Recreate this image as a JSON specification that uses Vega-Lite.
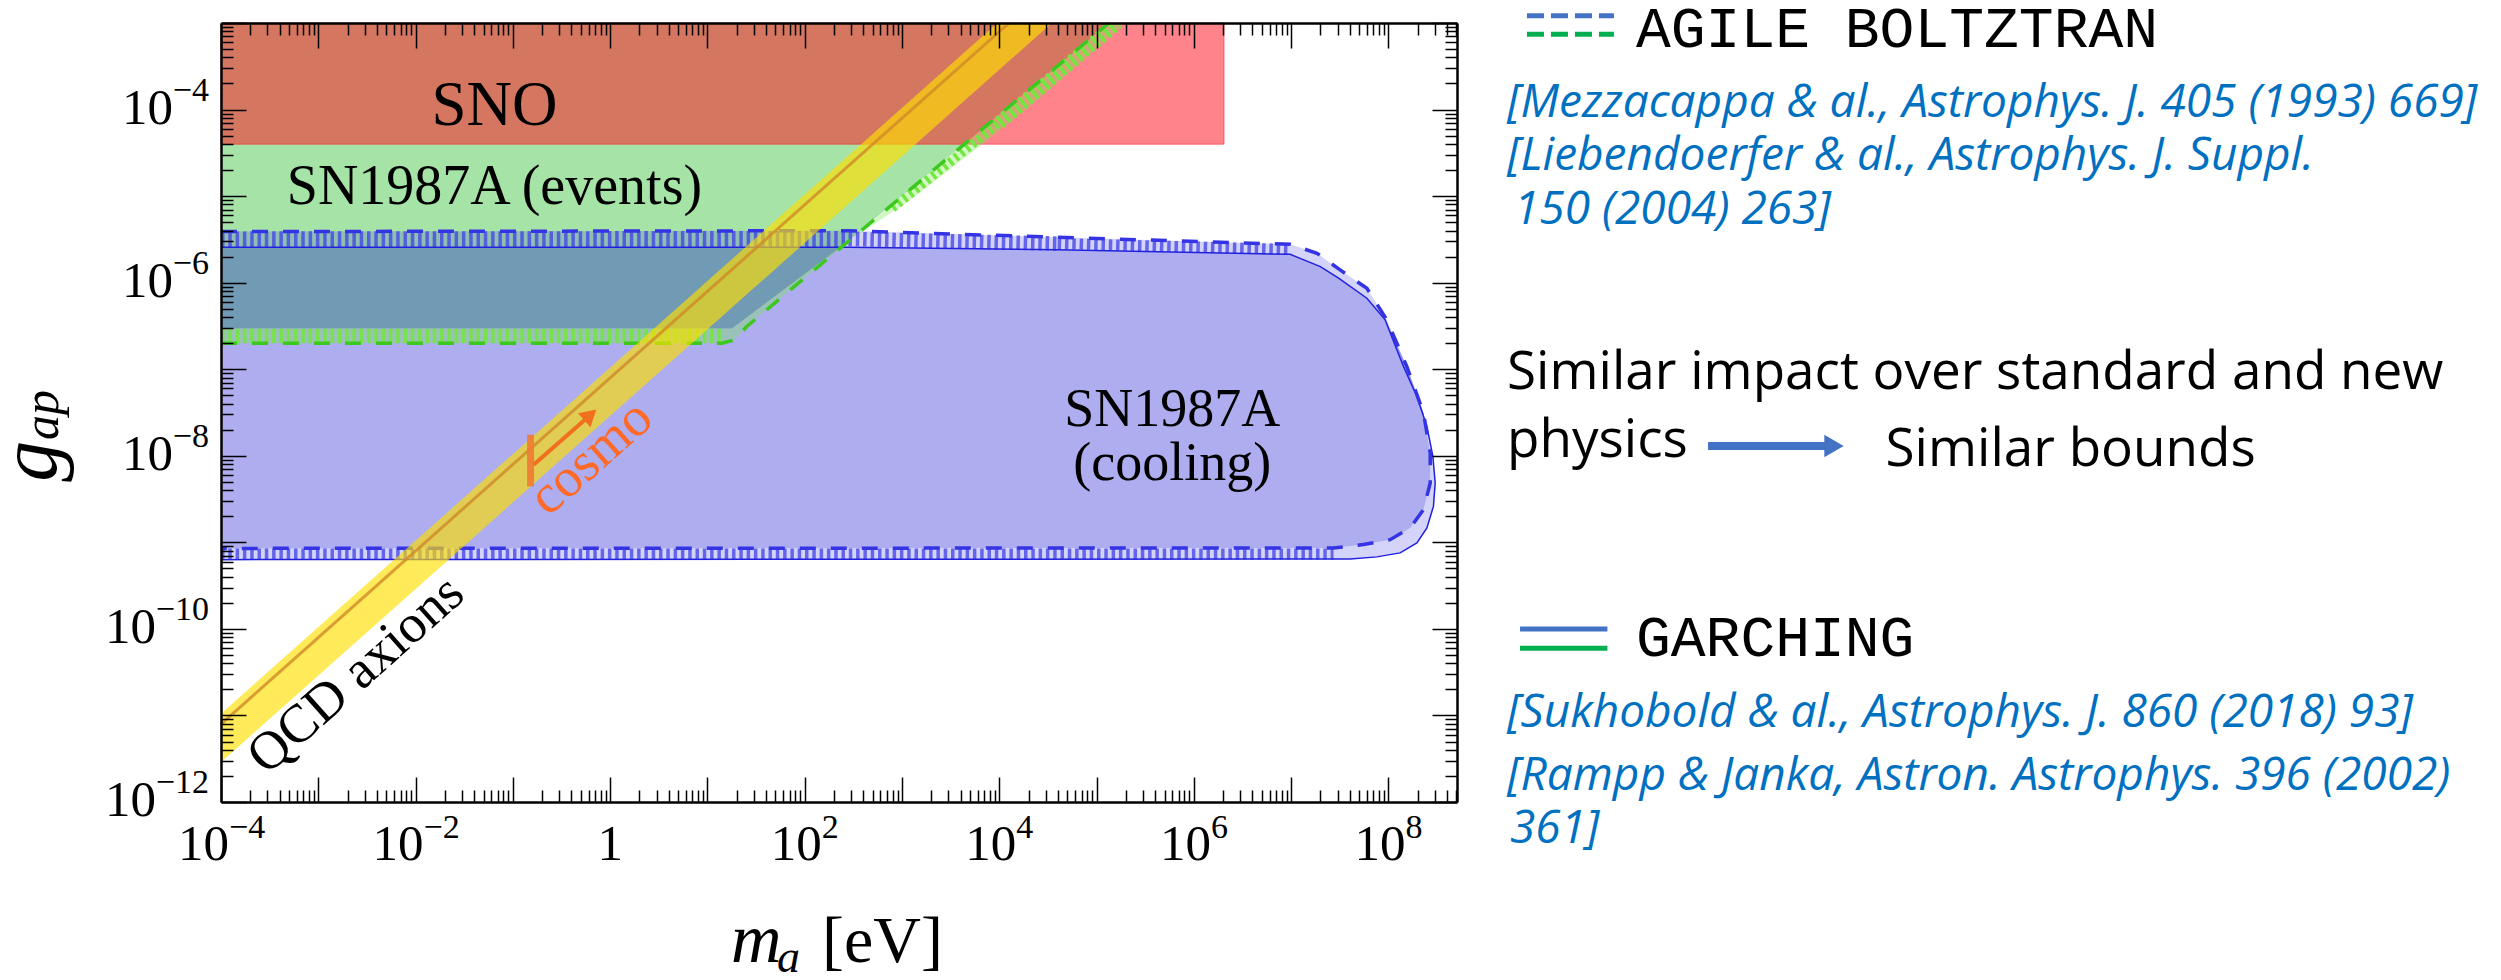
{
  "$schema": "https://vega.github.io/schema/vega-lite/v6.json",
  "width": 1236,
  "height": 779,
  "autosize": {"type": "none"},
  "padding": {"left": 221, "top": 23, "right": 1044, "bottom": 178},
  "background": "white",
  "config": {"view": {"stroke": null}, "axis": {"grid": false}},
  "datasets": {
    "shapes": [
      {"s": "ev_fill", "o": 1, "m": 1e-4, "g": 1e-3},
      {"s": "ev_fill", "o": 2, "m": 1.337e5, "g": 1e-3},
      {"s": "ev_fill", "o": 3, "m": 229.1, "g": 2.512e-6},
      {"s": "ev_fill", "o": 4, "m": 17.86, "g": 2.951e-7},
      {"s": "ev_fill", "o": 5, "m": 1e-4, "g": 2.951e-7},

      {"s": "ev_hatch", "o": 1, "m": 1e-4, "g": 1.995e-7},
      {"s": "ev_hatch", "o": 2, "m": 14.13, "g": 1.995e-7},
      {"s": "ev_hatch", "o": 3, "m": 19.05, "g": 2.188e-7},
      {"s": "ev_hatch", "o": 4, "m": 25.12, "g": 3.09e-7},
      {"s": "ev_hatch", "o": 5, "m": 1.337e5, "g": 1e-3},
      {"s": "ev_hatch", "o": 6, "m": 1.977e5, "g": 1e-3},
      {"s": "ev_hatch", "o": 7, "m": 2.432e4, "g": 1.282e-4},
      {"s": "ev_hatch", "o": 8, "m": 6887, "g": 4.074e-5},
      {"s": "ev_hatch", "o": 9, "m": 1265, "g": 9.333e-6},
      {"s": "ev_hatch", "o": 10, "m": 231.7, "g": 2.6e-6},
      {"s": "ev_hatch", "o": 11, "m": 17.86, "g": 2.951e-7},
      {"s": "ev_hatch", "o": 12, "m": 1e-4, "g": 2.951e-7},

      {"s": "ev_agile", "o": 1, "m": 1e-4, "g": 1.995e-7},
      {"s": "ev_agile", "o": 2, "m": 14.13, "g": 1.995e-7},
      {"s": "ev_agile", "o": 3, "m": 19.05, "g": 2.188e-7},
      {"s": "ev_agile", "o": 4, "m": 25.12, "g": 3.09e-7},
      {"s": "ev_agile", "o": 5, "m": 1.337e5, "g": 1e-3},

      {"s": "cool_fill", "o": 1, "m": 1e-4, "g": 2.57e-6},
      {"s": "cool_fill", "o": 2, "m": 281.8, "g": 2.57e-6},
      {"s": "cool_fill", "o": 3, "m": 3.981e4, "g": 2.399e-6},
      {"s": "cool_fill", "o": 4, "m": 9.772e6, "g": 2.123e-6},
      {"s": "cool_fill", "o": 5, "m": 1.995e7, "g": 1.531e-6},
      {"s": "cool_fill", "o": 6, "m": 3.069e7, "g": 1.125e-6},
      {"s": "cool_fill", "o": 7, "m": 5.998e7, "g": 6.607e-7},
      {"s": "cool_fill", "o": 8, "m": 9.247e7, "g": 3.715e-7},
      {"s": "cool_fill", "o": 9, "m": 1.545e8, "g": 1.074e-7},
      {"s": "cool_fill", "o": 10, "m": 2.291e8, "g": 3.112e-8},
      {"s": "cool_fill", "o": 11, "m": 2.685e8, "g": 1.076e-8},
      {"s": "cool_fill", "o": 12, "m": 2.685e8, "g": 4.842e-9},
      {"s": "cool_fill", "o": 13, "m": 2.291e8, "g": 2.388e-9},
      {"s": "cool_fill", "o": 14, "m": 1.671e8, "g": 1.466e-9},
      {"s": "cool_fill", "o": 15, "m": 1.04e8, "g": 1.074e-9},
      {"s": "cool_fill", "o": 16, "m": 5.534e7, "g": 9.419e-10},
      {"s": "cool_fill", "o": 17, "m": 2.723e7, "g": 8.61e-10},
      {"s": "cool_fill", "o": 18, "m": 1e-4, "g": 8.511e-10},

      {"s": "cool_hatch", "o": 1, "m": 1e-4, "g": 3.89e-6},
      {"s": "cool_hatch", "o": 2, "m": 281.8, "g": 3.981e-6},
      {"s": "cool_hatch", "o": 3, "m": 3.981e4, "g": 3.342e-6},
      {"s": "cool_hatch", "o": 4, "m": 9.772e6, "g": 2.773e-6},
      {"s": "cool_hatch", "o": 5, "m": 1.841e7, "g": 2.188e-6},
      {"s": "cool_hatch", "o": 6, "m": 3.184e7, "g": 1.403e-6},
      {"s": "cool_hatch", "o": 7, "m": 5.998e7, "g": 8.61e-7},
      {"s": "cool_hatch", "o": 8, "m": 9.616e7, "g": 3.715e-7},
      {"s": "cool_hatch", "o": 9, "m": 1.545e8, "g": 1.074e-7},
      {"s": "cool_hatch", "o": 10, "m": 2.291e8, "g": 3.112e-8},
      {"s": "cool_hatch", "o": 11, "m": 2.685e8, "g": 1.076e-8},
      {"s": "cool_hatch", "o": 12, "m": 2.685e8, "g": 4.842e-9},
      {"s": "cool_hatch", "o": 13, "m": 2.291e8, "g": 2.388e-9},
      {"s": "cool_hatch", "o": 14, "m": 1.671e8, "g": 1.466e-9},
      {"s": "cool_hatch", "o": 15, "m": 1.04e8, "g": 1.074e-9},
      {"s": "cool_hatch", "o": 16, "m": 5.534e7, "g": 9.419e-10},
      {"s": "cool_hatch", "o": 17, "m": 2.723e7, "g": 8.61e-10},
      {"s": "cool_hatch", "o": 18, "m": 1e-4, "g": 8.511e-10},
      {"s": "cool_hatch", "o": 19, "m": 1e-4, "g": 6.31e-10},
      {"s": "cool_hatch", "o": 20, "m": 4.036e7, "g": 6.427e-10},
      {"s": "cool_hatch", "o": 21, "m": 7.603e7, "g": 6.792e-10},
      {"s": "cool_hatch", "o": 22, "m": 1.318e8, "g": 7.551e-10},
      {"s": "cool_hatch", "o": 23, "m": 1.959e8, "g": 9.84e-10},
      {"s": "cool_hatch", "o": 24, "m": 2.483e8, "g": 1.466e-9},
      {"s": "cool_hatch", "o": 25, "m": 2.897e8, "g": 2.6e-9},
      {"s": "cool_hatch", "o": 26, "m": 3.02e8, "g": 4.842e-9},
      {"s": "cool_hatch", "o": 27, "m": 2.858e8, "g": 9.817e-9},
      {"s": "cool_hatch", "o": 28, "m": 2.483e8, "g": 2.183e-8},
      {"s": "cool_hatch", "o": 29, "m": 1.959e8, "g": 4.842e-8},
      {"s": "cool_hatch", "o": 30, "m": 1.426e8, "g": 1.074e-7},
      {"s": "cool_hatch", "o": 31, "m": 9.247e7, "g": 3.715e-7},
      {"s": "cool_hatch", "o": 32, "m": 5.998e7, "g": 6.607e-7},
      {"s": "cool_hatch", "o": 33, "m": 3.069e7, "g": 1.125e-6},
      {"s": "cool_hatch", "o": 34, "m": 1.995e7, "g": 1.531e-6},
      {"s": "cool_hatch", "o": 35, "m": 9.772e6, "g": 2.123e-6},
      {"s": "cool_hatch", "o": 36, "m": 3.981e4, "g": 2.399e-6},
      {"s": "cool_hatch", "o": 37, "m": 281.8, "g": 2.57e-6},
      {"s": "cool_hatch", "o": 38, "m": 1e-4, "g": 2.57e-6},

      {"s": "cool_garch", "o": 1, "m": 1e-4, "g": 2.57e-6},
      {"s": "cool_garch", "o": 2, "m": 281.8, "g": 2.57e-6},
      {"s": "cool_garch", "o": 3, "m": 3.981e4, "g": 2.399e-6},
      {"s": "cool_garch", "o": 4, "m": 9.772e6, "g": 2.123e-6},
      {"s": "cool_garch", "o": 5, "m": 1.995e7, "g": 1.531e-6},
      {"s": "cool_garch", "o": 6, "m": 3.069e7, "g": 1.125e-6},
      {"s": "cool_garch", "o": 7, "m": 5.998e7, "g": 6.607e-7},
      {"s": "cool_garch", "o": 8, "m": 9.247e7, "g": 3.715e-7},
      {"s": "cool_garch", "o": 9, "m": 1.426e8, "g": 1.074e-7},
      {"s": "cool_garch", "o": 10, "m": 1.959e8, "g": 4.842e-8},
      {"s": "cool_garch", "o": 11, "m": 2.483e8, "g": 2.183e-8},
      {"s": "cool_garch", "o": 12, "m": 2.858e8, "g": 9.817e-9},
      {"s": "cool_garch", "o": 13, "m": 3.02e8, "g": 4.842e-9},
      {"s": "cool_garch", "o": 14, "m": 2.897e8, "g": 2.6e-9},
      {"s": "cool_garch", "o": 15, "m": 2.483e8, "g": 1.466e-9},
      {"s": "cool_garch", "o": 16, "m": 1.959e8, "g": 9.84e-10},
      {"s": "cool_garch", "o": 17, "m": 1.318e8, "g": 7.551e-10},
      {"s": "cool_garch", "o": 18, "m": 7.603e7, "g": 6.792e-10},
      {"s": "cool_garch", "o": 19, "m": 4.036e7, "g": 6.427e-10},
      {"s": "cool_garch", "o": 20, "m": 1e-4, "g": 6.31e-10},

      {"s": "cool_agile", "o": 1, "m": 1e-4, "g": 3.89e-6},
      {"s": "cool_agile", "o": 2, "m": 281.8, "g": 3.981e-6},
      {"s": "cool_agile", "o": 3, "m": 3.981e4, "g": 3.342e-6},
      {"s": "cool_agile", "o": 4, "m": 9.772e6, "g": 2.773e-6},
      {"s": "cool_agile", "o": 5, "m": 1.841e7, "g": 2.188e-6},
      {"s": "cool_agile", "o": 6, "m": 3.184e7, "g": 1.403e-6},
      {"s": "cool_agile", "o": 7, "m": 5.998e7, "g": 8.61e-7},
      {"s": "cool_agile", "o": 8, "m": 9.616e7, "g": 3.715e-7},
      {"s": "cool_agile", "o": 9, "m": 1.545e8, "g": 1.074e-7},
      {"s": "cool_agile", "o": 10, "m": 2.291e8, "g": 3.112e-8},
      {"s": "cool_agile", "o": 11, "m": 2.685e8, "g": 1.076e-8},
      {"s": "cool_agile", "o": 12, "m": 2.685e8, "g": 4.842e-9},
      {"s": "cool_agile", "o": 13, "m": 2.291e8, "g": 2.388e-9},
      {"s": "cool_agile", "o": 14, "m": 1.671e8, "g": 1.466e-9},
      {"s": "cool_agile", "o": 15, "m": 1.04e8, "g": 1.074e-9},
      {"s": "cool_agile", "o": 16, "m": 5.534e7, "g": 9.419e-10},
      {"s": "cool_agile", "o": 17, "m": 2.723e7, "g": 8.61e-10},
      {"s": "cool_agile", "o": 18, "m": 1e-4, "g": 8.511e-10},

      {"s": "st_b1", "o": 1, "m": 1e-4, "g": 3.162e-6},
      {"s": "st_b1", "o": 2, "m": 281.8, "g": 3.199e-6},
      {"s": "st_b2", "o": 1, "m": 281.8, "g": 3.199e-6},
      {"s": "st_b2", "o": 2, "m": 3.981e4, "g": 2.831e-6},
      {"s": "st_b3", "o": 1, "m": 3.981e4, "g": 2.831e-6},
      {"s": "st_b3", "o": 2, "m": 9.772e6, "g": 2.427e-6},
      {"s": "st_b4", "o": 1, "m": 1e-4, "g": 7.328e-10},
      {"s": "st_b4", "o": 2, "m": 2.723e7, "g": 7.328e-10},
      {"s": "st_g1", "o": 1, "m": 1e-4, "g": 2.427e-7},
      {"s": "st_g1", "o": 2, "m": 14.13, "g": 2.427e-7},
      {"s": "st_g2", "o": 1, "m": 794.3, "g": 7.244e-6},
      {"s": "st_g2", "o": 2, "m": 1e4, "g": 7.047e-5},
      {"s": "st_g3", "o": 1, "m": 1e4, "g": 7.047e-5},
      {"s": "st_g3", "o": 2, "m": 1.626e5, "g": 1e-3},

      {"s": "qcd", "o": 1, "m": 1e-4, "g": 1.047e-11},
      {"s": "qcd", "o": 2, "m": 9550, "g": 1e-3},
      {"s": "qcd", "o": 3, "m": 3.467e4, "g": 1e-3},
      {"s": "qcd", "o": 4, "m": 1e-4, "g": 2.884e-12},

      {"s": "qcd_c", "o": 1, "m": 1e-4, "g": 7.943e-12},
      {"s": "qcd_c", "o": 2, "m": 1.259e4, "g": 1e-3}
    ]
  },
  "layer": [
    {
      "resolve": {"axis": {"x": "independent", "y": "independent"}},
      "layer": [
        {
          "data": {"name": "shapes"},
          "transform": [{"filter": "datum.s == 'ev_fill'"}],
          "mark": {"type": "line", "interpolate": "linear-closed", "fill": "#A6E3A6", "fillOpacity": 1, "strokeOpacity": 0},
          "encoding": {
            "x": {"field": "m", "type": "quantitative", "scale": {"type": "log", "domain": [1e-4, 5.06e8], "nice": false},
              "axis": {"orient": "bottom", "values": [1e-4, 1e-3, 1e-2, 1e-1, 1, 10, 100, 1000, 1e4, 1e5, 1e6, 1e7, 1e8],
                "ticks": false, "domain": true, "domainColor": "black", "domainWidth": 2.5, "labels": false,
                "title": null, "grid": false, "zindex": 1}},
            "y": {"field": "g", "type": "quantitative", "scale": {"type": "log", "domain": [1e-12, 1e-3], "nice": false},
              "axis": {"orient": "left", "values": [1e-12, 1e-11, 1e-10, 1e-9, 1e-8, 1e-7, 1e-6, 1e-5, 1e-4, 1e-3],
                "ticks": false, "domain": true, "domainColor": "black", "domainWidth": 2.5, "labels": false,
                "title": null, "grid": false, "zindex": 1}},
            "order": {"field": "o", "type": "quantitative"}
          }
        },
        {
          "data": {"name": "shapes"},
          "transform": [{"filter": "datum.s == 'cool_fill'"}],
          "mark": {"type": "line", "interpolate": "linear-closed", "fill": "#0707D0", "fillOpacity": 0.33, "strokeOpacity": 0},
          "encoding": {
            "x": {"field": "m", "type": "quantitative", "scale": {"type": "log", "domain": [1e-4, 5.06e8], "nice": false}, "axis": null},
            "y": {"field": "g", "type": "quantitative", "scale": {"type": "log", "domain": [1e-12, 1e-3], "nice": false}, "axis": null},
            "order": {"field": "o", "type": "quantitative"}
          }
        },
        {
          "data": {"values": [{"m": 1e-4, "m2": 2.04e6, "g": 3.98e-5, "g2": 1e-3}]},
          "mark": {"type": "rect", "fill": "#FF1423", "fillOpacity": 0.53, "stroke": "#FF1423", "strokeOpacity": 0.5, "strokeWidth": 1},
          "encoding": {
            "x": {"field": "m", "type": "quantitative", "scale": {"type": "log", "domain": [1e-4, 5.06e8], "nice": false}, "axis": null},
            "x2": {"field": "m2"},
            "y": {"field": "g", "type": "quantitative", "scale": {"type": "log", "domain": [1e-12, 1e-3], "nice": false}, "axis": null},
            "y2": {"field": "g2"}
          }
        },
        {
          "data": {"name": "shapes"},
          "transform": [{"filter": "datum.s == 'cool_hatch'"}],
          "mark": {"type": "line", "interpolate": "linear-closed", "fill": "#3C3CE6", "fillOpacity": 0.22, "strokeOpacity": 0},
          "encoding": {
            "x": {"field": "m", "type": "quantitative", "scale": {"type": "log", "domain": [1e-4, 5.06e8], "nice": false}, "axis": null},
            "y": {"field": "g", "type": "quantitative", "scale": {"type": "log", "domain": [1e-12, 1e-3], "nice": false}, "axis": null},
            "order": {"field": "o", "type": "quantitative"}
          }
        },
        {
          "data": {"name": "shapes"},
          "transform": [{"filter": "datum.s == 'ev_hatch'"}],
          "mark": {"type": "line", "interpolate": "linear-closed", "fill": "#7CEB50", "fillOpacity": 0.35, "strokeOpacity": 0},
          "encoding": {
            "x": {"field": "m", "type": "quantitative", "scale": {"type": "log", "domain": [1e-4, 5.06e8], "nice": false}, "axis": null},
            "y": {"field": "g", "type": "quantitative", "scale": {"type": "log", "domain": [1e-12, 1e-3], "nice": false}, "axis": null},
            "order": {"field": "o", "type": "quantitative"}
          }
        },
        {
          "data": {"name": "shapes"},
          "transform": [{"filter": "datum.s == 'st_b1'"}],
          "mark": {"type": "line", "stroke": "#4040E6", "strokeOpacity": 0.75, "strokeWidth": 16, "strokeDash": [3.5, 3.8], "strokeCap": "butt"},
          "encoding": {
            "x": {"field": "m", "type": "quantitative", "scale": {"type": "log", "domain": [1e-4, 5.06e8], "nice": false}, "axis": null},
            "y": {"field": "g", "type": "quantitative", "scale": {"type": "log", "domain": [1e-12, 1e-3], "nice": false}, "axis": null},
            "order": {"field": "o", "type": "quantitative"}
          }
        },
        {
          "data": {"name": "shapes"},
          "transform": [{"filter": "datum.s == 'st_b2'"}],
          "mark": {"type": "line", "stroke": "#4040E6", "strokeOpacity": 0.75, "strokeWidth": 14.5, "strokeDash": [3.5, 3.8], "strokeCap": "butt"},
          "encoding": {
            "x": {"field": "m", "type": "quantitative", "scale": {"type": "log", "domain": [1e-4, 5.06e8], "nice": false}, "axis": null},
            "y": {"field": "g", "type": "quantitative", "scale": {"type": "log", "domain": [1e-12, 1e-3], "nice": false}, "axis": null},
            "order": {"field": "o", "type": "quantitative"}
          }
        },
        {
          "data": {"name": "shapes"},
          "transform": [{"filter": "datum.s == 'st_b3' || datum.s == 'st_b4'"}],
          "mark": {"type": "line", "stroke": "#4040E6", "strokeOpacity": 0.75, "strokeWidth": 11, "strokeDash": [3.5, 3.8], "strokeCap": "butt"},
          "encoding": {
            "x": {"field": "m", "type": "quantitative", "scale": {"type": "log", "domain": [1e-4, 5.06e8], "nice": false}, "axis": null},
            "y": {"field": "g", "type": "quantitative", "scale": {"type": "log", "domain": [1e-12, 1e-3], "nice": false}, "axis": null},
            "detail": {"field": "s"},
            "order": {"field": "o", "type": "quantitative"}
          }
        },
        {
          "data": {"name": "shapes"},
          "transform": [{"filter": "datum.s == 'st_g1'"}],
          "mark": {"type": "line", "stroke": "#74E640", "strokeOpacity": 0.9, "strokeWidth": 14.5, "strokeDash": [3.5, 3.8], "strokeCap": "butt"},
          "encoding": {
            "x": {"field": "m", "type": "quantitative", "scale": {"type": "log", "domain": [1e-4, 5.06e8], "nice": false}, "axis": null},
            "y": {"field": "g", "type": "quantitative", "scale": {"type": "log", "domain": [1e-12, 1e-3], "nice": false}, "axis": null},
            "order": {"field": "o", "type": "quantitative"}
          }
        },
        {
          "data": {"name": "shapes"},
          "transform": [{"filter": "datum.s == 'st_g2'"}],
          "mark": {"type": "line", "stroke": "#74E640", "strokeOpacity": 1, "strokeWidth": 9, "strokeDash": [3.5, 3.8], "strokeCap": "butt", "clip": true},
          "encoding": {
            "x": {"field": "m", "type": "quantitative", "scale": {"type": "log", "domain": [1e-4, 5.06e8], "nice": false}, "axis": null},
            "y": {"field": "g", "type": "quantitative", "scale": {"type": "log", "domain": [1e-12, 1e-3], "nice": false}, "axis": null},
            "order": {"field": "o", "type": "quantitative"}
          }
        },
        {
          "data": {"name": "shapes"},
          "transform": [{"filter": "datum.s == 'st_g3'"}],
          "mark": {"type": "line", "stroke": "#74E640", "strokeOpacity": 1, "strokeWidth": 14, "strokeDash": [3.5, 3.8], "strokeCap": "butt", "clip": true},
          "encoding": {
            "x": {"field": "m", "type": "quantitative", "scale": {"type": "log", "domain": [1e-4, 5.06e8], "nice": false}, "axis": null},
            "y": {"field": "g", "type": "quantitative", "scale": {"type": "log", "domain": [1e-12, 1e-3], "nice": false}, "axis": null},
            "order": {"field": "o", "type": "quantitative"}
          }
        },
        {
          "data": {"name": "shapes"},
          "transform": [{"filter": "datum.s == 'cool_garch'"}],
          "mark": {"type": "line", "interpolate": "linear", "stroke": "#2020DD", "strokeWidth": 1.5},
          "encoding": {
            "x": {"field": "m", "type": "quantitative", "scale": {"type": "log", "domain": [1e-4, 5.06e8], "nice": false}, "axis": null},
            "y": {"field": "g", "type": "quantitative", "scale": {"type": "log", "domain": [1e-12, 1e-3], "nice": false}, "axis": null},
            "order": {"field": "o", "type": "quantitative"}
          }
        },
        {
          "data": {"name": "shapes"},
          "transform": [{"filter": "datum.s == 'cool_agile'"}],
          "mark": {"type": "line", "interpolate": "linear", "stroke": "#3434E4", "strokeWidth": 3.5, "strokeDash": [16, 15]},
          "encoding": {
            "x": {"field": "m", "type": "quantitative", "scale": {"type": "log", "domain": [1e-4, 5.06e8], "nice": false}, "axis": null},
            "y": {"field": "g", "type": "quantitative", "scale": {"type": "log", "domain": [1e-12, 1e-3], "nice": false}, "axis": null},
            "order": {"field": "o", "type": "quantitative"}
          }
        },
        {
          "data": {"name": "shapes"},
          "transform": [{"filter": "datum.s == 'ev_agile'"}],
          "mark": {"type": "line", "interpolate": "linear", "stroke": "#3CC81E", "strokeWidth": 3.5, "strokeDash": [16, 15]},
          "encoding": {
            "x": {"field": "m", "type": "quantitative", "scale": {"type": "log", "domain": [1e-4, 5.06e8], "nice": false}, "axis": null},
            "y": {"field": "g", "type": "quantitative", "scale": {"type": "log", "domain": [1e-12, 1e-3], "nice": false}, "axis": null},
            "order": {"field": "o", "type": "quantitative"}
          }
        },
        {
          "data": {"name": "shapes"},
          "transform": [{"filter": "datum.s == 'qcd'"}],
          "mark": {"type": "line", "interpolate": "linear-closed", "fill": "#FFDF00", "fillOpacity": 0.65, "strokeOpacity": 0},
          "encoding": {
            "x": {"field": "m", "type": "quantitative", "scale": {"type": "log", "domain": [1e-4, 5.06e8], "nice": false}, "axis": null},
            "y": {"field": "g", "type": "quantitative", "scale": {"type": "log", "domain": [1e-12, 1e-3], "nice": false}, "axis": null},
            "order": {"field": "o", "type": "quantitative"}
          }
        },
        {
          "data": {"name": "shapes"},
          "transform": [{"filter": "datum.s == 'qcd_c'"}],
          "mark": {"type": "line", "interpolate": "linear", "stroke": "#D08A28", "strokeOpacity": 0.8, "strokeWidth": 3},
          "encoding": {
            "x": {"field": "m", "type": "quantitative", "scale": {"type": "log", "domain": [1e-4, 5.06e8], "nice": false}, "axis": null},
            "y": {"field": "g", "type": "quantitative", "scale": {"type": "log", "domain": [1e-12, 1e-3], "nice": false}, "axis": null},
            "order": {"field": "o", "type": "quantitative"}
          }
        },
        {
          "data": {"values": [{"t": "SNO", "m": 0.0646, "g": 6.6e-5}]},
          "mark": {"type": "text", "font": "Liberation Serif", "fontSize": 63, "color": "black", "align": "center", "baseline": "alphabetic"},
          "encoding": {
            "x": {"field": "m", "type": "quantitative", "scale": {"type": "log", "domain": [1e-4, 5.06e8], "nice": false}, "axis": null},
            "y": {"field": "g", "type": "quantitative", "scale": {"type": "log", "domain": [1e-12, 1e-3], "nice": false}, "axis": null},
            "text": {"field": "t"}
          }
        },
        {
          "data": {"values": [{"t": "SN1987A (events)", "m": 0.0646, "g": 8.13e-6}]},
          "mark": {"type": "text", "font": "Liberation Serif", "fontSize": 56, "color": "black", "align": "center", "baseline": "alphabetic"},
          "encoding": {
            "x": {"field": "m", "type": "quantitative", "scale": {"type": "log", "domain": [1e-4, 5.06e8], "nice": false}, "axis": null},
            "y": {"field": "g", "type": "quantitative", "scale": {"type": "log", "domain": [1e-12, 1e-3], "nice": false}, "axis": null},
            "text": {"field": "t"}
          }
        },
        {
          "data": {"values": [{"t": "SN1987A", "m": 5.98e5, "g": 2.188e-8}, {"t": "(cooling)", "m": 5.98e5, "g": 5.28e-9}]},
          "mark": {"type": "text", "font": "Liberation Serif", "fontSize": 54, "color": "black", "align": "center", "baseline": "alphabetic"},
          "encoding": {
            "x": {"field": "m", "type": "quantitative", "scale": {"type": "log", "domain": [1e-4, 5.06e8], "nice": false}, "axis": null},
            "y": {"field": "g", "type": "quantitative", "scale": {"type": "log", "domain": [1e-12, 1e-3], "nice": false}, "axis": null},
            "text": {"field": "t"}
          }
        },
        {
          "data": {"values": [{"t": "QCD axions", "m": 0.00245, "g": 2.95e-11}]},
          "mark": {"type": "text", "font": "Liberation Serif", "fontSize": 54, "color": "black", "align": "center", "baseline": "middle", "angle": 318.3},
          "encoding": {
            "x": {"field": "m", "type": "quantitative", "scale": {"type": "log", "domain": [1e-4, 5.06e8], "nice": false}, "axis": null},
            "y": {"field": "g", "type": "quantitative", "scale": {"type": "log", "domain": [1e-12, 1e-3], "nice": false}, "axis": null},
            "text": {"field": "t"}
          }
        },
        {
          "data": {"values": [{"t": "cosmo", "m": 0.63, "g": 9.6e-9}]},
          "mark": {"type": "text", "font": "Liberation Serif", "fontSize": 55, "color": "#FF6A28", "align": "center", "baseline": "middle", "angle": 318.5},
          "encoding": {
            "x": {"field": "m", "type": "quantitative", "scale": {"type": "log", "domain": [1e-4, 5.06e8], "nice": false}, "axis": null},
            "y": {"field": "g", "type": "quantitative", "scale": {"type": "log", "domain": [1e-12, 1e-3], "nice": false}, "axis": null},
            "text": {"field": "t"}
          }
        },
        {
          "data": {"values": [{"m": 0.152, "g": 1.75e-8, "g2": 4.43e-9}]},
          "mark": {"type": "rule", "color": "#F07A32", "opacity": 0.9, "strokeWidth": 7},
          "encoding": {
            "x": {"field": "m", "type": "quantitative", "scale": {"type": "log", "domain": [1e-4, 5.06e8], "nice": false}, "axis": null},
            "y": {"field": "g", "type": "quantitative", "scale": {"type": "log", "domain": [1e-12, 1e-3], "nice": false}, "axis": null},
            "y2": {"field": "g2"}
          }
        },
        {
          "data": {"values": [{"m": 0.1633, "g": 7.89e-9, "m2": 0.565, "g2": 2.685e-8}]},
          "mark": {"type": "rule", "color": "#F07020", "strokeWidth": 4},
          "encoding": {
            "x": {"field": "m", "type": "quantitative", "scale": {"type": "log", "domain": [1e-4, 5.06e8], "nice": false}, "axis": null},
            "y": {"field": "g", "type": "quantitative", "scale": {"type": "log", "domain": [1e-12, 1e-3], "nice": false}, "axis": null},
            "x2": {"field": "m2"},
            "y2": {"field": "g2"}
          }
        },
        {
          "data": {"values": [{"m": 0.625, "g": 2.972e-8}]},
          "mark": {"type": "point", "shape": "triangle-up", "filled": true, "color": "#F07020", "opacity": 1, "size": 350, "angle": 48.7},
          "encoding": {
            "x": {"field": "m", "type": "quantitative", "scale": {"type": "log", "domain": [1e-4, 5.06e8], "nice": false}, "axis": null},
            "y": {"field": "g", "type": "quantitative", "scale": {"type": "log", "domain": [1e-12, 1e-3], "nice": false}, "axis": null}
          }
        },
        {
          "data": {"values": [{"t": "10", "m": 1e-4, "g": 1e-12}, {"t": "10", "m": 1e-2, "g": 1e-12}]},
          "mark": {"type": "text", "font": "Liberation Serif", "fontSize": 51, "color": "black", "align": "left", "baseline": "alphabetic", "dx": -43, "dy": 58},
          "encoding": {
            "x": {"field": "m", "type": "quantitative", "scale": {"type": "log", "domain": [1e-4, 5.06e8], "nice": false}, "axis": null},
            "y": {"field": "g", "type": "quantitative", "scale": {"type": "log", "domain": [1e-12, 1e-3], "nice": false}, "axis": null},
            "text": {"field": "t"}
          }
        },
        {
          "data": {"values": [{"t": "−4", "m": 1e-4, "g": 1e-12}, {"t": "−2", "m": 1e-2, "g": 1e-12}]},
          "mark": {"type": "text", "font": "Liberation Serif", "fontSize": 34, "color": "black", "align": "left", "baseline": "alphabetic", "dx": 8, "dy": 36},
          "encoding": {
            "x": {"field": "m", "type": "quantitative", "scale": {"type": "log", "domain": [1e-4, 5.06e8], "nice": false}, "axis": null},
            "y": {"field": "g", "type": "quantitative", "scale": {"type": "log", "domain": [1e-12, 1e-3], "nice": false}, "axis": null},
            "text": {"field": "t"}
          }
        },
        {
          "data": {"values": [{"t": "10", "m": 100, "g": 1e-12}, {"t": "10", "m": 1e4, "g": 1e-12}, {"t": "10", "m": 1e6, "g": 1e-12}, {"t": "10", "m": 1e8, "g": 1e-12}]},
          "mark": {"type": "text", "font": "Liberation Serif", "fontSize": 51, "color": "black", "align": "left", "baseline": "alphabetic", "dx": -34, "dy": 58},
          "encoding": {
            "x": {"field": "m", "type": "quantitative", "scale": {"type": "log", "domain": [1e-4, 5.06e8], "nice": false}, "axis": null},
            "y": {"field": "g", "type": "quantitative", "scale": {"type": "log", "domain": [1e-12, 1e-3], "nice": false}, "axis": null},
            "text": {"field": "t"}
          }
        },
        {
          "data": {"values": [{"t": "2", "m": 100, "g": 1e-12}, {"t": "4", "m": 1e4, "g": 1e-12}, {"t": "6", "m": 1e6, "g": 1e-12}, {"t": "8", "m": 1e8, "g": 1e-12}]},
          "mark": {"type": "text", "font": "Liberation Serif", "fontSize": 34, "color": "black", "align": "left", "baseline": "alphabetic", "dx": 17, "dy": 36},
          "encoding": {
            "x": {"field": "m", "type": "quantitative", "scale": {"type": "log", "domain": [1e-4, 5.06e8], "nice": false}, "axis": null},
            "y": {"field": "g", "type": "quantitative", "scale": {"type": "log", "domain": [1e-12, 1e-3], "nice": false}, "axis": null},
            "text": {"field": "t"}
          }
        },
        {
          "data": {"values": [{"t": "1", "m": 1, "g": 1e-12}]},
          "mark": {"type": "text", "font": "Liberation Serif", "fontSize": 51, "color": "black", "align": "center", "baseline": "alphabetic", "dy": 58},
          "encoding": {
            "x": {"field": "m", "type": "quantitative", "scale": {"type": "log", "domain": [1e-4, 5.06e8], "nice": false}, "axis": null},
            "y": {"field": "g", "type": "quantitative", "scale": {"type": "log", "domain": [1e-12, 1e-3], "nice": false}, "axis": null},
            "text": {"field": "t"}
          }
        },
        {
          "data": {"values": [{"t": "10", "m": 1e-4, "g": 1e-12}, {"t": "10", "m": 1e-4, "g": 1e-10}]},
          "mark": {"type": "text", "font": "Liberation Serif", "fontSize": 51, "color": "black", "align": "right", "baseline": "alphabetic", "dx": -65, "dy": 14},
          "encoding": {
            "x": {"field": "m", "type": "quantitative", "scale": {"type": "log", "domain": [1e-4, 5.06e8], "nice": false}, "axis": null},
            "y": {"field": "g", "type": "quantitative", "scale": {"type": "log", "domain": [1e-12, 1e-3], "nice": false}, "axis": null},
            "text": {"field": "t"}
          }
        },
        {
          "data": {"values": [{"t": "−12", "m": 1e-4, "g": 1e-12}, {"t": "−10", "m": 1e-4, "g": 1e-10}]},
          "mark": {"type": "text", "font": "Liberation Serif", "fontSize": 34, "color": "black", "align": "right", "baseline": "alphabetic", "dx": -12, "dy": -9},
          "encoding": {
            "x": {"field": "m", "type": "quantitative", "scale": {"type": "log", "domain": [1e-4, 5.06e8], "nice": false}, "axis": null},
            "y": {"field": "g", "type": "quantitative", "scale": {"type": "log", "domain": [1e-12, 1e-3], "nice": false}, "axis": null},
            "text": {"field": "t"}
          }
        },
        {
          "data": {"values": [{"t": "10", "m": 1e-4, "g": 1e-8}, {"t": "10", "m": 1e-4, "g": 1e-6}, {"t": "10", "m": 1e-4, "g": 1e-4}]},
          "mark": {"type": "text", "font": "Liberation Serif", "fontSize": 51, "color": "black", "align": "right", "baseline": "alphabetic", "dx": -48, "dy": 14},
          "encoding": {
            "x": {"field": "m", "type": "quantitative", "scale": {"type": "log", "domain": [1e-4, 5.06e8], "nice": false}, "axis": null},
            "y": {"field": "g", "type": "quantitative", "scale": {"type": "log", "domain": [1e-12, 1e-3], "nice": false}, "axis": null},
            "text": {"field": "t"}
          }
        },
        {
          "data": {"values": [{"t": "−8", "m": 1e-4, "g": 1e-8}, {"t": "−6", "m": 1e-4, "g": 1e-6}, {"t": "−4", "m": 1e-4, "g": 1e-4}]},
          "mark": {"type": "text", "font": "Liberation Serif", "fontSize": 34, "color": "black", "align": "right", "baseline": "alphabetic", "dx": -12, "dy": -9},
          "encoding": {
            "x": {"field": "m", "type": "quantitative", "scale": {"type": "log", "domain": [1e-4, 5.06e8], "nice": false}, "axis": null},
            "y": {"field": "g", "type": "quantitative", "scale": {"type": "log", "domain": [1e-12, 1e-3], "nice": false}, "axis": null},
            "text": {"field": "t"}
          }
        },
        {
          "data": {"values": [{"m": 1, "g": 1e-6}]},
          "mark": {"type": "point", "opacity": 0},
          "encoding": {
            "x": {"field": "m", "type": "quantitative", "scale": {"type": "log", "domain": [1e-4, 5.06e8], "nice": false},
              "axis": {"orient": "bottom", "values": [1e-4, 1e-3, 1e-2, 1e-1, 1, 10, 100, 1000, 1e4, 1e5, 1e6, 1e7, 1e8],
                "ticks": true, "tickSize": -25, "tickWidth": 1.5, "tickColor": "black", "labels": false, "domain": false, "title": null, "grid": false, "zindex": 1}},
            "y": {"field": "g", "type": "quantitative", "scale": {"type": "log", "domain": [1e-12, 1e-3], "nice": false},
              "axis": {"orient": "left", "values": [1e-12, 1e-11, 1e-10, 1e-9, 1e-8, 1e-7, 1e-6, 1e-5, 1e-4, 1e-3],
                "ticks": true, "tickSize": -25, "tickWidth": 1.5, "tickColor": "black", "labels": false, "domain": false, "title": null, "grid": false, "zindex": 1}}
          }
        },
        {
          "data": {"values": [{"m": 1, "g": 1e-6}]},
          "mark": {"type": "point", "opacity": 0},
          "encoding": {
            "x": {"field": "m", "type": "quantitative", "scale": {"type": "log", "domain": [1e-4, 5.06e8], "nice": false},
              "axis": {"orient": "bottom", "values": [2e-4, 3e-4, 4e-4, 5e-4, 6e-4, 7e-4, 8e-4, 9e-4, 2e-3, 3e-3, 4e-3, 5e-3, 6e-3, 7e-3, 8e-3, 9e-3, 0.02, 0.03, 0.04, 0.05, 0.06, 0.07, 0.08, 0.09, 0.2, 0.3, 0.4, 0.5, 0.6, 0.7, 0.8, 0.9, 2, 3, 4, 5, 6, 7, 8, 9, 20, 30, 40, 50, 60, 70, 80, 90, 200, 300, 400, 500, 600, 700, 800, 900, 2000, 3000, 4000, 5000, 6000, 7000, 8000, 9000, 2e4, 3e4, 4e4, 5e4, 6e4, 7e4, 8e4, 9e4, 2e5, 3e5, 4e5, 5e5, 6e5, 7e5, 8e5, 9e5, 2e6, 3e6, 4e6, 5e6, 6e6, 7e6, 8e6, 9e6, 2e7, 3e7, 4e7, 5e7, 6e7, 7e7, 8e7, 9e7, 2e8, 3e8, 4e8, 5e8],
                "ticks": true, "tickSize": -12, "tickWidth": 1.5, "tickColor": "black", "labels": false, "domain": false, "title": null, "grid": false, "zindex": 1}},
            "y": {"field": "g", "type": "quantitative", "scale": {"type": "log", "domain": [1e-12, 1e-3], "nice": false},
              "axis": {"orient": "left", "values": [2e-12, 3e-12, 4e-12, 5e-12, 6e-12, 7e-12, 8e-12, 9e-12, 2e-11, 3e-11, 4e-11, 5e-11, 6e-11, 7e-11, 8e-11, 9e-11, 2e-10, 3e-10, 4e-10, 5e-10, 6e-10, 7e-10, 8e-10, 9e-10, 2e-9, 3e-9, 4e-9, 5e-9, 6e-9, 7e-9, 8e-9, 9e-9, 2e-8, 3e-8, 4e-8, 5e-8, 6e-8, 7e-8, 8e-8, 9e-8, 2e-7, 3e-7, 4e-7, 5e-7, 6e-7, 7e-7, 8e-7, 9e-7, 2e-6, 3e-6, 4e-6, 5e-6, 6e-6, 7e-6, 8e-6, 9e-6, 2e-5, 3e-5, 4e-5, 5e-5, 6e-5, 7e-5, 8e-5, 9e-5, 2e-4, 3e-4, 4e-4, 5e-4, 6e-4, 7e-4, 8e-4, 9e-4],
                "ticks": true, "tickSize": -12, "tickWidth": 1.5, "tickColor": "black", "labels": false, "domain": false, "title": null, "grid": false, "zindex": 1}}
          }
        },
        {
          "data": {"values": [{"m": 1, "g": 1e-6}]},
          "mark": {"type": "point", "opacity": 0},
          "encoding": {
            "x": {"field": "m", "type": "quantitative", "scale": {"type": "log", "domain": [1e-4, 5.06e8], "nice": false},
              "axis": {"orient": "top", "values": [1e-4, 1e-3, 1e-2, 1e-1, 1, 10, 100, 1000, 1e4, 1e5, 1e6, 1e7, 1e8],
                "ticks": true, "tickSize": -25, "tickWidth": 1.5, "tickColor": "black", "labels": false, "domain": true, "domainColor": "black", "domainWidth": 2.5, "title": null, "grid": false, "zindex": 1}},
            "y": {"field": "g", "type": "quantitative", "scale": {"type": "log", "domain": [1e-12, 1e-3], "nice": false},
              "axis": {"orient": "right", "values": [1e-12, 1e-11, 1e-10, 1e-9, 1e-8, 1e-7, 1e-6, 1e-5, 1e-4, 1e-3],
                "ticks": true, "tickSize": -25, "tickWidth": 1.5, "tickColor": "black", "labels": false, "domain": true, "domainColor": "black", "domainWidth": 2.5, "title": null, "grid": false, "zindex": 1}}
          }
        },
        {
          "data": {"values": [{"m": 1, "g": 1e-6}]},
          "mark": {"type": "point", "opacity": 0},
          "encoding": {
            "x": {"field": "m", "type": "quantitative", "scale": {"type": "log", "domain": [1e-4, 5.06e8], "nice": false},
              "axis": {"orient": "top", "values": [2e-4, 3e-4, 4e-4, 5e-4, 6e-4, 7e-4, 8e-4, 9e-4, 2e-3, 3e-3, 4e-3, 5e-3, 6e-3, 7e-3, 8e-3, 9e-3, 0.02, 0.03, 0.04, 0.05, 0.06, 0.07, 0.08, 0.09, 0.2, 0.3, 0.4, 0.5, 0.6, 0.7, 0.8, 0.9, 2, 3, 4, 5, 6, 7, 8, 9, 20, 30, 40, 50, 60, 70, 80, 90, 200, 300, 400, 500, 600, 700, 800, 900, 2000, 3000, 4000, 5000, 6000, 7000, 8000, 9000, 2e4, 3e4, 4e4, 5e4, 6e4, 7e4, 8e4, 9e4, 2e5, 3e5, 4e5, 5e5, 6e5, 7e5, 8e5, 9e5, 2e6, 3e6, 4e6, 5e6, 6e6, 7e6, 8e6, 9e6, 2e7, 3e7, 4e7, 5e7, 6e7, 7e7, 8e7, 9e7, 2e8, 3e8, 4e8, 5e8],
                "ticks": true, "tickSize": -12, "tickWidth": 1.5, "tickColor": "black", "labels": false, "domain": false, "title": null, "grid": false, "zindex": 1}},
            "y": {"field": "g", "type": "quantitative", "scale": {"type": "log", "domain": [1e-12, 1e-3], "nice": false},
              "axis": {"orient": "right", "values": [2e-12, 3e-12, 4e-12, 5e-12, 6e-12, 7e-12, 8e-12, 9e-12, 2e-11, 3e-11, 4e-11, 5e-11, 6e-11, 7e-11, 8e-11, 9e-11, 2e-10, 3e-10, 4e-10, 5e-10, 6e-10, 7e-10, 8e-10, 9e-10, 2e-9, 3e-9, 4e-9, 5e-9, 6e-9, 7e-9, 8e-9, 9e-9, 2e-8, 3e-8, 4e-8, 5e-8, 6e-8, 7e-8, 8e-8, 9e-8, 2e-7, 3e-7, 4e-7, 5e-7, 6e-7, 7e-7, 8e-7, 9e-7, 2e-6, 3e-6, 4e-6, 5e-6, 6e-6, 7e-6, 8e-6, 9e-6, 2e-5, 3e-5, 4e-5, 5e-5, 6e-5, 7e-5, 8e-5, 9e-5, 2e-4, 3e-4, 4e-4, 5e-4, 6e-4, 7e-4, 8e-4, 9e-4],
                "ticks": true, "tickSize": -12, "tickWidth": 1.5, "tickColor": "black", "labels": false, "domain": false, "title": null, "grid": false, "zindex": 1}}
          }
        }
      ]
    },
    {
      "layer": [
        {
          "data": {"values": [{"t": "AGILE BOLTZTRAN", "ax": 1.1448, "ay": 0.031}, {"t": "GARCHING", "ax": 1.1448, "ay": 0.8126}]},
          "mark": {"type": "text", "font": "Liberation Mono", "fontSize": 58, "color": "black", "align": "left", "baseline": "alphabetic"},
          "encoding": {
            "x": {"field": "ax", "type": "quantitative", "scale": {"domain": [0, 1], "nice": false, "zero": false}, "axis": null},
            "y": {"field": "ay", "type": "quantitative", "scale": {"domain": [0, 1], "nice": false, "zero": false, "reverse": true}, "axis": null},
            "text": {"field": "t"}
          }
        },
        {
          "data": {"values": [
            {"t": "[Mezzacappa & al., Astrophys. J. 405 (1993) 669]", "ax": 1.0405, "ay": 0.1203},
            {"t": "[Liebendoerfer & al., Astrophys. J. Suppl.", "ax": 1.0405, "ay": 0.1887},
            {"t": "150 (2004) 263]", "ax": 1.0461, "ay": 0.258},
            {"t": "[Sukhobold & al., Astrophys. J. 860 (2018) 93]", "ax": 1.0405, "ay": 0.9033},
            {"t": "[Rampp & Janka, Astron. Astrophys. 396 (2002)", "ax": 1.0405, "ay": 0.9846},
            {"t": "361]", "ax": 1.0429, "ay": 1.053}
          ]},
          "mark": {"type": "text", "font": "Open Sans", "fontStyle": "italic", "fontSize": 46, "color": "#0070C0", "align": "left", "baseline": "alphabetic"},
          "encoding": {
            "x": {"field": "ax", "type": "quantitative", "scale": {"domain": [0, 1], "nice": false, "zero": false}, "axis": null},
            "y": {"field": "ay", "type": "quantitative", "scale": {"domain": [0, 1], "nice": false, "zero": false, "reverse": true}, "axis": null},
            "text": {"field": "t"}
          }
        },
        {
          "data": {"values": [
            {"t": "Similar impact over standard and new", "ax": 1.0405, "ay": 0.4702},
            {"t": "physics", "ax": 1.0405, "ay": 0.5575},
            {"t": "Similar bounds", "ax": 1.3467, "ay": 0.5687}
          ]},
          "mark": {"type": "text", "font": "Open Sans", "fontSize": 53, "color": "black", "align": "left", "baseline": "alphabetic"},
          "encoding": {
            "x": {"field": "ax", "type": "quantitative", "scale": {"domain": [0, 1], "nice": false, "zero": false}, "axis": null},
            "y": {"field": "ay", "type": "quantitative", "scale": {"domain": [0, 1], "nice": false, "zero": false, "reverse": true}, "axis": null},
            "text": {"field": "t"}
          }
        },
        {
          "data": {"values": [{"ax": 1.0566, "ax2": 1.127, "ay": -0.0094}]},
          "mark": {"type": "rule", "color": "#4472C4", "strokeWidth": 5, "strokeDash": [17, 7]},
          "encoding": {
            "x": {"field": "ax", "type": "quantitative", "scale": {"domain": [0, 1], "nice": false, "zero": false}, "axis": null},
            "x2": {"field": "ax2"},
            "y": {"field": "ay", "type": "quantitative", "scale": {"domain": [0, 1], "nice": false, "zero": false, "reverse": true}, "axis": null}
          }
        },
        {
          "data": {"values": [{"ax": 1.0566, "ax2": 1.127, "ay": 0.0145}]},
          "mark": {"type": "rule", "color": "#00B050", "strokeWidth": 5, "strokeDash": [17, 7]},
          "encoding": {
            "x": {"field": "ax", "type": "quantitative", "scale": {"domain": [0, 1], "nice": false, "zero": false}, "axis": null},
            "x2": {"field": "ax2"},
            "y": {"field": "ay", "type": "quantitative", "scale": {"domain": [0, 1], "nice": false, "zero": false, "reverse": true}, "axis": null}
          }
        },
        {
          "data": {"values": [{"ax": 1.051, "ax2": 1.1217, "ay": 0.7779}]},
          "mark": {"type": "rule", "color": "#4472C4", "strokeWidth": 5},
          "encoding": {
            "x": {"field": "ax", "type": "quantitative", "scale": {"domain": [0, 1], "nice": false, "zero": false}, "axis": null},
            "x2": {"field": "ax2"},
            "y": {"field": "ay", "type": "quantitative", "scale": {"domain": [0, 1], "nice": false, "zero": false, "reverse": true}, "axis": null}
          }
        },
        {
          "data": {"values": [{"ax": 1.051, "ax2": 1.1217, "ay": 0.8027}]},
          "mark": {"type": "rule", "color": "#00B050", "strokeWidth": 5},
          "encoding": {
            "x": {"field": "ax", "type": "quantitative", "scale": {"domain": [0, 1], "nice": false, "zero": false}, "axis": null},
            "x2": {"field": "ax2"},
            "y": {"field": "ay", "type": "quantitative", "scale": {"domain": [0, 1], "nice": false, "zero": false, "reverse": true}, "axis": null}
          }
        },
        {
          "data": {"values": [{"ax": 1.2031, "ax2": 1.2985, "ay": 0.543}]},
          "mark": {"type": "rule", "color": "#4472C4", "strokeWidth": 8},
          "encoding": {
            "x": {"field": "ax", "type": "quantitative", "scale": {"domain": [0, 1], "nice": false, "zero": false}, "axis": null},
            "x2": {"field": "ax2"},
            "y": {"field": "ay", "type": "quantitative", "scale": {"domain": [0, 1], "nice": false, "zero": false, "reverse": true}, "axis": null}
          }
        },
        {
          "data": {"values": [{"ax": 1.305, "ay": 0.543}]},
          "mark": {"type": "point", "shape": "triangle-right", "filled": true, "color": "#4472C4", "opacity": 1, "size": 500},
          "encoding": {
            "x": {"field": "ax", "type": "quantitative", "scale": {"domain": [0, 1], "nice": false, "zero": false}, "axis": null},
            "y": {"field": "ay", "type": "quantitative", "scale": {"domain": [0, 1], "nice": false, "zero": false, "reverse": true}, "axis": null}
          }
        },
        {
          "data": {"values": [{"t": "m", "ax": 0.4126, "ay": 1.205}]},
          "mark": {"type": "text", "font": "Liberation Serif", "fontStyle": "italic", "fontSize": 70, "color": "black", "align": "left", "baseline": "alphabetic"},
          "encoding": {
            "x": {"field": "ax", "type": "quantitative", "scale": {"domain": [0, 1], "nice": false, "zero": false}, "axis": null},
            "y": {"field": "ay", "type": "quantitative", "scale": {"domain": [0, 1], "nice": false, "zero": false, "reverse": true}, "axis": null},
            "text": {"field": "t"}
          }
        },
        {
          "data": {"values": [{"t": "a", "ax": 0.4498, "ay": 1.218}]},
          "mark": {"type": "text", "font": "Liberation Serif", "fontStyle": "italic", "fontSize": 46, "color": "black", "align": "left", "baseline": "alphabetic"},
          "encoding": {
            "x": {"field": "ax", "type": "quantitative", "scale": {"domain": [0, 1], "nice": false, "zero": false}, "axis": null},
            "y": {"field": "ay", "type": "quantitative", "scale": {"domain": [0, 1], "nice": false, "zero": false, "reverse": true}, "axis": null},
            "text": {"field": "t"}
          }
        },
        {
          "data": {"values": [{"t": "[eV]", "ax": 0.4862, "ay": 1.205}]},
          "mark": {"type": "text", "font": "Liberation Serif", "fontSize": 66, "color": "black", "align": "left", "baseline": "alphabetic"},
          "encoding": {
            "x": {"field": "ax", "type": "quantitative", "scale": {"domain": [0, 1], "nice": false, "zero": false}, "axis": null},
            "y": {"field": "ay", "type": "quantitative", "scale": {"domain": [0, 1], "nice": false, "zero": false, "reverse": true}, "axis": null},
            "text": {"field": "t"}
          }
        },
        {
          "data": {"values": [{"t": "g", "ax": -0.1335, "ay": 0.589}]},
          "mark": {"type": "text", "font": "Liberation Serif", "fontStyle": "italic", "fontSize": 82, "color": "black", "align": "left", "baseline": "alphabetic", "angle": 270},
          "encoding": {
            "x": {"field": "ax", "type": "quantitative", "scale": {"domain": [0, 1], "nice": false, "zero": false}, "axis": null},
            "y": {"field": "ay", "type": "quantitative", "scale": {"domain": [0, 1], "nice": false, "zero": false, "reverse": true}, "axis": null},
            "text": {"field": "t"}
          }
        },
        {
          "data": {"values": [{"t": "ap", "ax": -0.1319, "ay": 0.5353}]},
          "mark": {"type": "text", "font": "Liberation Serif", "fontStyle": "italic", "fontSize": 50, "color": "black", "align": "left", "baseline": "alphabetic", "angle": 270},
          "encoding": {
            "x": {"field": "ax", "type": "quantitative", "scale": {"domain": [0, 1], "nice": false, "zero": false}, "axis": null},
            "y": {"field": "ay", "type": "quantitative", "scale": {"domain": [0, 1], "nice": false, "zero": false, "reverse": true}, "axis": null},
            "text": {"field": "t"}
          }
        }
      ]
    }
  ],
  "resolve": {"scale": {"x": "independent", "y": "independent"}, "axis": {"x": "independent", "y": "independent"}}
}
